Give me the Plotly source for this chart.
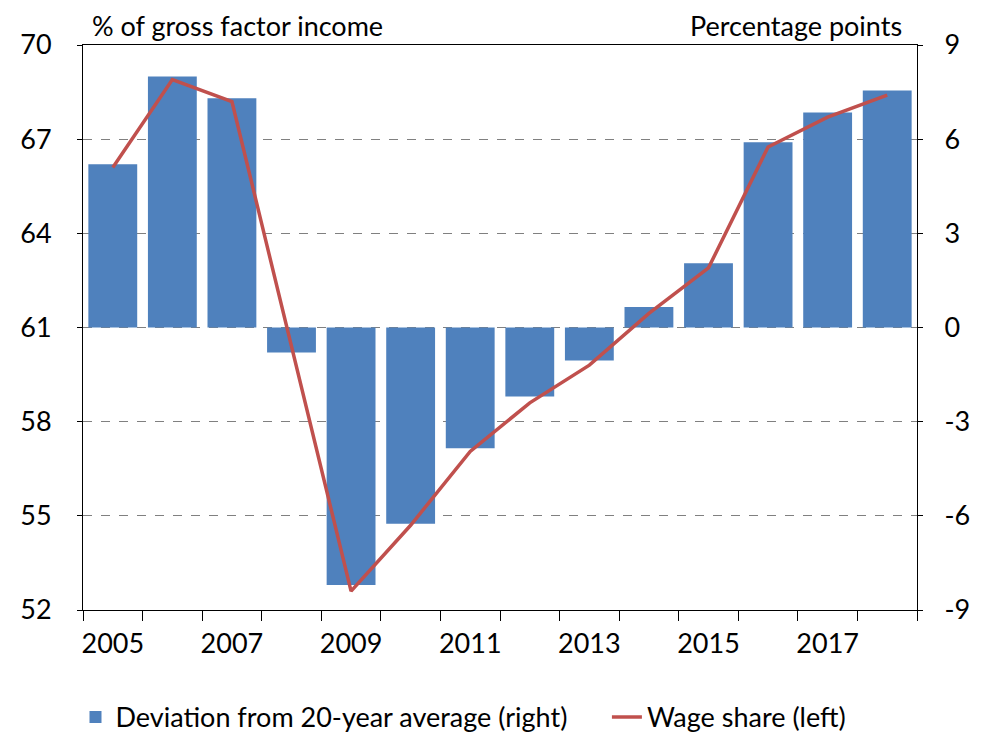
import plotly.graph_objects as go

years = list(range(2005, 2019))
deviation = [5.2, 8.0, 7.3, -0.8, -8.2, -6.25, -3.85, -2.2, -1.05, 0.65, 2.05, 5.9, 6.85, 7.55]
wage_share = [66.1, 68.9, 68.2, 60.4, 52.6, 54.7, 57.05, 58.6, 59.8, 61.45, 62.9, 66.75, 67.7, 68.4]
left_ticks = [52, 55, 58, 61, 64, 67, 70]
right_ticks = [-9, -6, -3, 0, 3, 6, 9]
x_labels = [2005, 2007, 2009, 2011, 2013, 2015, 2017]

FONT = "Lato"
BLUE = "#4F81BD"
RED = "#C0504D"
FS = 27

fig = go.Figure()
fig.add_trace(go.Bar(
    x=years, y=deviation, name="Deviation from 20-year average (right)" + "\u00a0" * 5,
    marker=dict(color=BLUE, line=dict(width=0)), yaxis="y",
))
fig.add_trace(go.Scatter(
    x=years, y=wage_share, name="Wage share (left)", mode="lines",
    line=dict(color=RED, width=3.5), yaxis="y2",
))

fig.update_layout(
    width=984, height=746,
    margin=dict(l=73, r=75, t=37, b=142),
    paper_bgcolor="white", plot_bgcolor="white",
    font=dict(family=FONT, size=FS, color="#000000"),
    bargap=0.18,
    showlegend=True,
    legend=dict(orientation="h", x=-0.009, xanchor="left", y=-0.19, yanchor="middle",
                font=dict(size=FS), traceorder="normal", tracegroupgap=0,
                itemwidth=30),
    xaxis=dict(
        range=[2004.5, 2018.5], tickvals=x_labels, ticktext=[str(v) for v in x_labels],
        ticks="", showgrid=False, zeroline=False,
        showline=True, linecolor="#000000", linewidth=1, mirror=True,
        minor=dict(tick0=2004.5, dtick=1, ticks="outside", ticklen=10, tickcolor="#000000", showgrid=False),
        ticklabelstandoff=10,
        tickfont=dict(size=FS),
    ),
    yaxis=dict(
        side="right", range=[-9, 9], tickvals=right_ticks, ticktext=[str(v) for v in right_ticks],
        showgrid=True, gridcolor="#808080", griddash="dash", gridwidth=1,
        zeroline=False, showline=True, linecolor="#000000", linewidth=1,
        ticks="outside", ticklen=5, tickcolor="#000000",
        ticklabelstandoff=16, tickfont=dict(size=FS),
    ),
    yaxis2=dict(
        side="left", overlaying="y", range=[52, 70], tickvals=left_ticks,
        ticktext=[str(v) for v in left_ticks],
        showgrid=False, zeroline=False, showline=True, linecolor="#000000", linewidth=1,
        ticks="outside", ticklen=5, tickcolor="#000000",
        ticklabelstandoff=20, tickfont=dict(size=FS),
    ),
    annotations=[
        dict(text="% of gross factor income", xref="paper", yref="paper",
             x=0.008, y=1.0, xanchor="left", yanchor="bottom", yshift=1,
             showarrow=False, font=dict(size=FS)),
        dict(text="Percentage points", xref="paper", yref="paper",
             x=0.985, y=1.0, xanchor="right", yanchor="bottom", yshift=1,
             showarrow=False, font=dict(size=FS)),
    ],
)

fig.write_html("out.html")
